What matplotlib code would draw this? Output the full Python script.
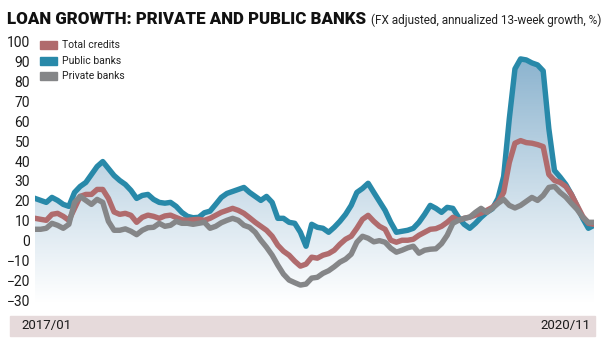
import numpy as np
import pandas as pd
import matplotlib
matplotlib.use("Agg")
import matplotlib.pyplot as plt
from matplotlib.patches import Rectangle
from matplotlib import font_manager

# Condensed face for all chart text, with fallbacks
_available = {f.name for f in font_manager.fontManager.ttflist}
FAMILY = [f for f in ["Liberation Sans Narrow", "DejaVu Sans Condensed", "Roboto", "DejaVu Sans"]
          if f in _available] or ["DejaVu Sans"]
plt.rcParams["font.family"] = FAMILY

# Biweekly observations, 2017/01 - 2020/11 (annualized 13-week growth, %)
dates = pd.date_range("2017-01-06", "2020-11-27", periods=100)

public_banks = [
    22, 21, 20, 22.5, 21, 19, 18, 25, 28, 30,
    34, 38, 40.5, 37, 33.5, 31, 29, 26, 22, 23.5,
    24, 21.5, 20, 19.6, 20, 18, 15, 13, 12.3, 12.5,
    14.8, 15.6, 19, 22.5, 24.5, 25.5, 26.5, 27.5, 25, 23,
    21, 23, 20, 12, 12, 10, 9.5, 5, -2, 9,
    7.5, 7, 5, 7.5, 10.5, 14, 18.5, 25, 27, 29.6,
    25, 20.5, 16, 10, 5, 5.5, 6, 7, 10, 14,
    18.5, 17, 15, 17.5, 17, 12.5, 9, 7, 9.5, 12.5,
    15, 16.8, 22, 33, 62, 87, 92, 91.5, 90, 89,
    86, 57, 36, 32.7, 29, 24, 18, 12, 7, 8.5,
]

total_credits = [
    12, 11.5, 11, 14, 14.5, 13, 11, 17, 23, 24,
    24, 26.5, 26.5, 22, 15.2, 14, 14.5, 13.5, 10, 12.5,
    13.6, 13, 12, 13.2, 13.6, 12.4, 11.3, 11, 11.3, 11.5,
    11, 12, 13.5, 15, 16, 17, 16, 14.5, 12.3, 10,
    8, 6, 3, -1.5, -4.5, -6.5, -9.5, -12, -11, -7.5,
    -8, -6.5, -5.7, -4, -1, 1.5, 3, 7, 11.5, 13.5,
    10.5, 8, 6.5, 1, 0, 1, 1, 1.5, 3.5, 5,
    6.5, 6.8, 8, 10, 12.5, 11, 12, 12.6, 13.6, 14.6,
    16, 17.5, 20, 25, 40, 49.7, 51, 50, 49.7, 49,
    48, 34, 31, 30, 28, 24, 18.5, 13, 9.5, 9,
]

private_banks = [
    6.5, 6.5, 7, 9.5, 8.5, 7, 9, 20, 23, 21,
    19, 21.5, 20, 10.5, 6, 6, 6.7, 5.5, 3.8, 6,
    7.3, 7.5, 9.5, 8, 8.5, 10.5, 9.5, 9.5, 9, 9.5,
    10, 7, 8, 9.8, 11, 12, 11, 8.5, 7.5, 5,
    1, -2.5, -6.5, -11.5, -16, -19, -20.3, -21.5, -21, -18,
    -17.6, -15.6, -14.3, -12.3, -10, -8.5, -6, 0, 3, 2,
    0.2, 0.8, 0, -3, -5, -4, -2.8, -2, -5.5, -4,
    -3.5, -3.3, -0.7, 3.5, 9.5, 11, 12, 12.6, 15, 17,
    15, 17, 19.5, 21.5, 18.5, 17.2, 18.5, 20.5, 22.5, 21,
    23.5, 27.5, 28, 25, 22.7, 19.5, 16.5, 12.5, 10, 10,
]

series_names = ["Total credits", "Public banks", "Private banks"]
y_ticks = [100, 90, 80, 70, 60, 50, 40, 30, 20, 10, 0, -10, -20, -30]
x_labels = ["2017/01", "2020/11"]
title = "LOAN GROWTH: PRIVATE AND PUBLIC BANKS"
subtitle = "(FX adjusted, annualized 13-week growth, %)"

C_TOTAL = "#b06b6d"
C_PUBLIC = "#2889a9"
C_PRIVATE = "#858688"

W, H = 607, 346
fig = plt.figure(figsize=(W / 100, H / 100), dpi=100)
ax = fig.add_axes([35 / W, 1 - 304 / H, (594 - 35) / W, (304 - 41) / H])
ymin, ymax = -31, 101
ax.set_xlim(dates[0], dates[-1])
ax.set_ylim(ymin, ymax)
for s in ax.spines.values():
    s.set_visible(False)
ax.set_xticks([])
ax.set_yticks([])

xnum = matplotlib.dates.date2num(dates)
pub = np.asarray(public_banks, float)
tot = np.asarray(total_credits, float)
pri = np.asarray(private_banks, float)
env = np.maximum.reduce([pub, tot, pri])

# Vertical gradient under the upper envelope of the three series
top_rgb = np.array([0.42, 0.62, 0.76])
img = np.ones((256, 1, 4))
frac = np.clip((np.linspace(ymin, ymax, 256) - ymin) / (92 - ymin), 0, 1)
img[:, 0, :3] = top_rgb
img[:, 0, 3] = 0.78 * frac ** 1.05
im = ax.imshow(img, origin="lower", aspect="auto",
               extent=[xnum[0], xnum[-1], ymin, ymax], zorder=1, interpolation="bilinear")
poly = ax.fill_between(xnum, env, ymin, color="none", lw=0)
im.set_clip_path(poly.get_paths()[0], transform=ax.transData)

lw = 3.9
ax.plot(xnum, pub, color=C_PUBLIC, lw=lw, solid_joinstyle="round", zorder=3)
ax.plot(xnum, tot, color=C_TOTAL, lw=lw, solid_joinstyle="round", zorder=4)
ax.plot(xnum, pri, color=C_PRIVATE, lw=lw, solid_joinstyle="round", zorder=5)

# Y tick labels
for v in y_ticks:
    ax.text(-0.009, v, str(v).replace("-", "\u2212"), transform=ax.get_yaxis_transform(),
            ha="right", va="center", fontsize=10, color="#1a1a1a")

# Legend
leg_colors = [C_TOTAL, C_PUBLIC, C_PRIVATE]
for i, (name, c) in enumerate(zip(series_names, leg_colors)):
    yc = 45 + i * 15.5
    fig.patches.append(Rectangle((40 / W, 1 - (yc + 4) / H), 17 / W, 8 / H,
                                 transform=fig.transFigure, color=c))
    fig.text(62 / W, 1 - yc / H, name, fontsize=7.5, va="center", ha="left", color="#222222")


def fit_text(x0, x1, y, s, size, **kw):
    """Place text starting at pixel x0, shrinking the size so it ends near x1."""
    t = fig.text(x0 / W, 1 - y / H, s, fontsize=size, va="center", ha="left", **kw)
    fig.canvas.draw()
    width = t.get_window_extent().width
    t.set_fontsize(size * min(1.0, (x1 - x0) / width))
    return t


fit_text(7, 369, 19, title, 15, fontweight=900, color="#111111")
fit_text(371, 604, 20, subtitle, 9.5, color="#222222")

# Bottom date band
fig.patches.append(Rectangle((10 / W, 1 - 336 / H), (595 - 10) / W, 20 / H,
                             transform=fig.transFigure, color="#e6dadb", zorder=0))
fig.text(46 / W, 1 - 326 / H, x_labels[0], fontsize=9.5, ha="center", va="center", color="#1a1a1a")
fig.text(590 / W, 1 - 326 / H, x_labels[1], fontsize=9.5, ha="right", va="center", color="#1a1a1a")

fig.savefig("out.png", dpi=100)
